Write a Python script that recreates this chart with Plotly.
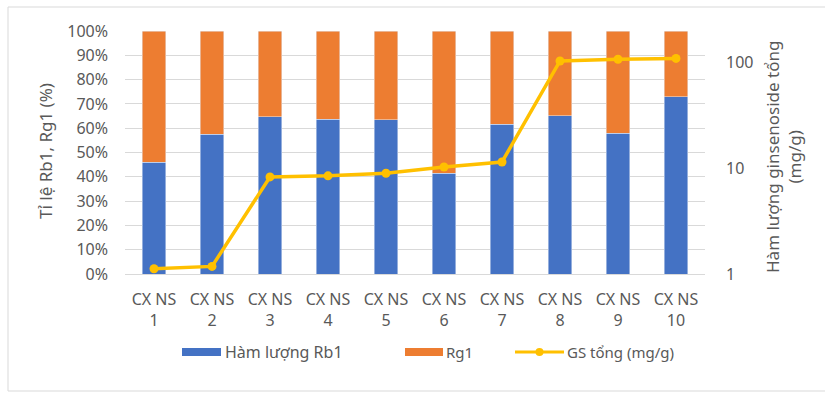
import plotly.graph_objects as go

# Samples
categories = ["CX NS<br>1", "CX NS<br>2", "CX NS<br>3", "CX NS<br>4", "CX NS<br>5",
              "CX NS<br>6", "CX NS<br>7", "CX NS<br>8", "CX NS<br>9", "CX NS<br>10"]

# Share of Rb1 and Rg1 (%)
rb1_pct = [46, 57.5, 64.7, 63.6, 63.5, 41.5, 61.7, 65.2, 58, 73]
rg1_pct = [54, 42.5, 35.3, 36.4, 36.5, 58.5, 38.3, 34.8, 42, 27]

# Total ginsenoside content (mg/g)
gs_total = [1.12, 1.18, 8.3, 8.5, 9.0, 10.3, 11.5, 104, 108, 110]

left_ticks = [0, 10, 20, 30, 40, 50, 60, 70, 80, 90, 100]
left_ticklabels = [f"{v}%" for v in left_ticks]
right_ticks = [1, 10, 100]

BLUE = "#4472C4"
ORANGE = "#ED7D31"
GOLD = "#FFC000"
TEXT = "#595959"
GRID = "#D9D9D9"
FONT = "Noto Sans"

W, H = 825, 393
ML, MR, MT, MB = 125, 120, 31, 119
PW, PH = W - ML - MR, H - MT - MB


def px(x):
    return (x - ML) / PW


def py(y):
    return 1 - (y - MT) / PH


fig = go.Figure()
fig.add_trace(go.Bar(x=categories, y=rb1_pct, name="Hàm lượng Rb1",
                     marker_color=BLUE, width=0.4, showlegend=False))
fig.add_trace(go.Bar(x=categories, y=rg1_pct, name="Rg1",
                     marker_color=ORANGE, width=0.4, showlegend=False))
fig.add_trace(go.Scatter(x=categories, y=gs_total, name="GS tổng (mg/g)",
                         yaxis="y2", mode="lines+markers",
                         line=dict(color=GOLD, width=3.5),
                         marker=dict(color=GOLD, size=9),
                         showlegend=False))

shapes = [
    # outer chart frame
    dict(type="rect", xref="paper", yref="paper",
         x0=px(8), x1=px(830), y0=py(391), y1=py(7),
         line=dict(color="#D9D9D9", width=1), layer="below"),
    # legend glyphs
    dict(type="rect", xref="paper", yref="paper",
         x0=px(182), x1=px(221), y0=py(356), y1=py(348),
         fillcolor=BLUE, line=dict(width=0)),
    dict(type="rect", xref="paper", yref="paper",
         x0=px(405), x1=px(443), y0=py(356), y1=py(348),
         fillcolor=ORANGE, line=dict(width=0)),
    dict(type="line", xref="paper", yref="paper",
         x0=px(515), x1=px(564), y0=py(352), y1=py(352),
         line=dict(color=GOLD, width=3)),
    dict(type="circle", xref="paper", yref="paper",
         x0=px(535.5), x1=px(543.5), y0=py(356), y1=py(348),
         fillcolor=GOLD, line=dict(width=0)),
]

annotations = [
    dict(text="Hàm lượng Rb1", x=px(223), y=py(352), xref="paper", yref="paper",
         xanchor="left", yanchor="middle", showarrow=False,
         font=dict(size=16, color=TEXT, family=FONT)),
    dict(text="Rg1", x=px(444), y=py(352), xref="paper", yref="paper",
         xanchor="left", yanchor="middle", showarrow=False,
         font=dict(size=15, color=TEXT, family=FONT)),
    dict(text="GS tổng (mg/g)", x=px(565), y=py(352), xref="paper", yref="paper",
         xanchor="left", yanchor="middle", showarrow=False,
         font=dict(size=15, color=TEXT, family=FONT)),
    dict(text="Tỉ lệ Rb1, Rg1 (%)", x=px(45), y=py(151), xref="paper", yref="paper",
         xanchor="center", yanchor="middle", textangle=-90, showarrow=False,
         font=dict(size=17, color=TEXT, family=FONT)),
    dict(text="Hàm lượng ginsenoside tổng<br>(mg/g)", x=px(783), y=py(157),
         xref="paper", yref="paper", xanchor="center", yanchor="middle",
         textangle=-90, showarrow=False,
         font=dict(size=17, color=TEXT, family=FONT)),
]

fig.update_layout(
    width=W, height=H,
    margin=dict(l=ML, r=MR, t=MT, b=MB, pad=0),
    paper_bgcolor="white", plot_bgcolor="white",
    barmode="stack", bargap=0.6,
    font=dict(family=FONT, color=TEXT, size=16),
    showlegend=False,
    xaxis=dict(showgrid=False, showline=False, zeroline=False,
               tickfont=dict(size=16, color=TEXT), ticklabelstandoff=14,
               range=[-0.5, 9.5]),
    yaxis=dict(range=[0, 100], tickvals=left_ticks, ticktext=left_ticklabels,
               showgrid=True, gridcolor=GRID, gridwidth=1, zeroline=True,
               zerolinecolor=GRID, zerolinewidth=1, showline=False,
               tickfont=dict(size=16, color=TEXT), ticklabelstandoff=16),
    yaxis2=dict(type="log", range=[0, 2.30103], overlaying="y", side="right",
                tickvals=right_ticks, ticktext=[str(v) for v in right_ticks],
                showgrid=False, zeroline=False, showline=False,
                tickfont=dict(size=16, color=TEXT), ticklabelstandoff=20),
    shapes=shapes,
    annotations=annotations,
)

fig.write_html("out.html")
